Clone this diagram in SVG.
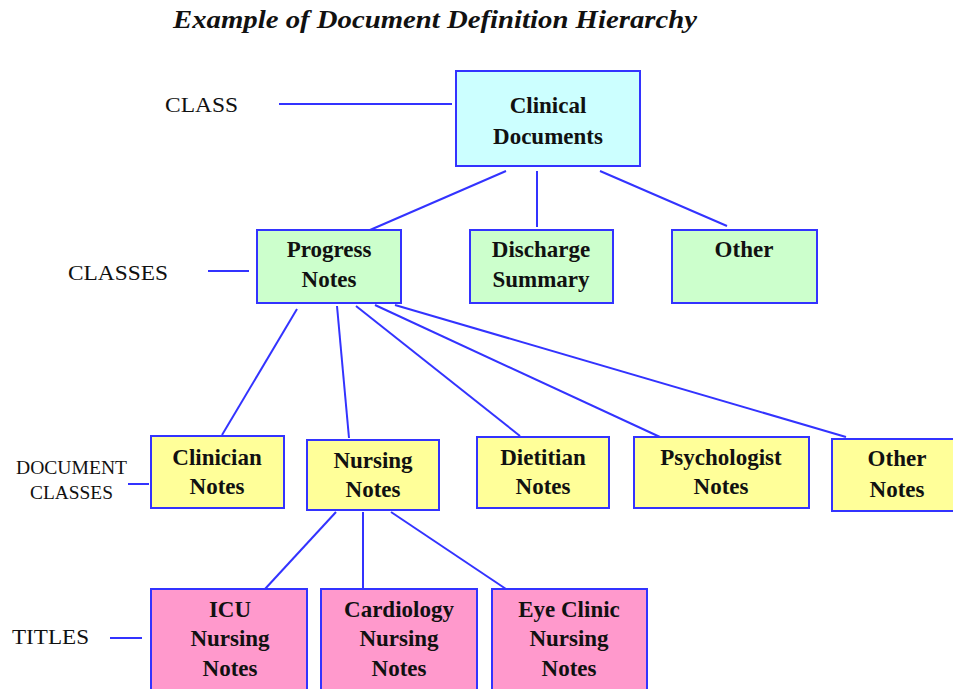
<svg xmlns="http://www.w3.org/2000/svg" width="953" height="689" viewBox="0 0 953 689">
<style>
.box{stroke:#3333ff;stroke-width:2}
.cls{fill:#ccffff}.grn{fill:#ccffcc}.yel{fill:#ffff99}.pnk{fill:#ff99cc}
.nt{font-family:"Liberation Serif",serif;font-weight:bold;font-size:23px;fill:#111;text-anchor:middle}
.lbl{font-family:"Liberation Serif",serif;font-size:22px;fill:#111}
.sm{font-size:18px}
.ln{stroke:#3333ff;stroke-width:2;fill:none}
</style>
<rect width="953" height="689" fill="#fff"/>
<text x="173" y="28" font-family="Liberation Serif,serif" font-weight="bold" font-style="italic" font-size="25" textLength="524" lengthAdjust="spacingAndGlyphs" fill="#111">Example of Document Definition Hierarchy</text>
<g id="labels">
<text class="lbl" x="165" y="112" textLength="73" lengthAdjust="spacingAndGlyphs">CLASS</text>
<text class="lbl" x="68" y="280" textLength="100" lengthAdjust="spacingAndGlyphs">CLASSES</text>
<text class="lbl sm" x="16" y="474" textLength="111" lengthAdjust="spacingAndGlyphs">DOCUMENT</text>
<text class="lbl sm" x="30" y="499" textLength="83" lengthAdjust="spacingAndGlyphs">CLASSES</text>
<text class="lbl" x="12" y="644" textLength="77" lengthAdjust="spacingAndGlyphs">TITLES</text>
</g>
<g id="connectors">
<line class="ln" x1="279" y1="104" x2="452" y2="104"/>
<line class="ln" x1="506" y1="171" x2="370" y2="230"/>
<line class="ln" x1="537" y1="171" x2="537" y2="227"/>
<line class="ln" x1="600" y1="171" x2="727" y2="226"/>
<line class="ln" x1="208" y1="271" x2="249" y2="271"/>
<line class="ln" x1="297" y1="309" x2="222" y2="435"/>
<line class="ln" x1="337" y1="306" x2="349" y2="438"/>
<line class="ln" x1="356" y1="306" x2="520" y2="436"/>
<line class="ln" x1="375" y1="305" x2="660" y2="437"/>
<line class="ln" x1="395" y1="305" x2="846" y2="437"/>
<line class="ln" x1="128" y1="484" x2="149" y2="484"/>
<line class="ln" x1="336" y1="512" x2="265" y2="589"/>
<line class="ln" x1="363" y1="512" x2="363" y2="589"/>
<line class="ln" x1="391" y1="512" x2="506" y2="589"/>
<line class="ln" x1="110" y1="638" x2="142" y2="638"/>
</g>
<g id="clinical"><rect class="box cls" x="456" y="71" width="184" height="95"/><text class="nt" x="548" y="113">Clinical</text><text class="nt" x="548" y="144">Documents</text></g>
<g id="progress"><rect class="box grn" x="257" y="230" width="144" height="73"/><text class="nt" x="329" y="257">Progress</text><text class="nt" x="329" y="287">Notes</text></g>
<g id="discharge"><rect class="box grn" x="470" y="230" width="143" height="73"/><text class="nt" x="541" y="257">Discharge</text><text class="nt" x="541" y="287">Summary</text></g>
<g id="other"><rect class="box grn" x="672" y="230" width="145" height="73"/><text class="nt" x="744" y="257">Other</text></g>
<g id="clinician"><rect class="box yel" x="151" y="436" width="133" height="72"/><text class="nt" x="217" y="465">Clinician</text><text class="nt" x="217" y="494">Notes</text></g>
<g id="nursing"><rect class="box yel" x="307" y="440" width="132" height="70"/><text class="nt" x="373" y="468">Nursing</text><text class="nt" x="373" y="497">Notes</text></g>
<g id="dietitian"><rect class="box yel" x="477" y="437" width="132" height="71"/><text class="nt" x="543" y="465">Dietitian</text><text class="nt" x="543" y="494">Notes</text></g>
<g id="psychologist"><rect class="box yel" x="634" y="437" width="175" height="71"/><text class="nt" x="721" y="465">Psychologist</text><text class="nt" x="721" y="494">Notes</text></g>
<g id="othernotes"><rect class="box yel" x="832" y="439" width="130" height="72"/><text class="nt" x="897" y="466">Other</text><text class="nt" x="897" y="497">Notes</text></g>
<g id="icu"><rect class="box pnk" x="151" y="589" width="156" height="110"/><text class="nt" x="230" y="617">ICU</text><text class="nt" x="230" y="646">Nursing</text><text class="nt" x="230" y="676">Notes</text></g>
<g id="cardiology"><rect class="box pnk" x="321" y="589" width="156" height="110"/><text class="nt" x="399" y="617">Cardiology</text><text class="nt" x="399" y="646">Nursing</text><text class="nt" x="399" y="676">Notes</text></g>
<g id="eyeclinic"><rect class="box pnk" x="492" y="589" width="155" height="110"/><text class="nt" x="569" y="617">Eye Clinic</text><text class="nt" x="569" y="646">Nursing</text><text class="nt" x="569" y="676">Notes</text></g>
</svg>
